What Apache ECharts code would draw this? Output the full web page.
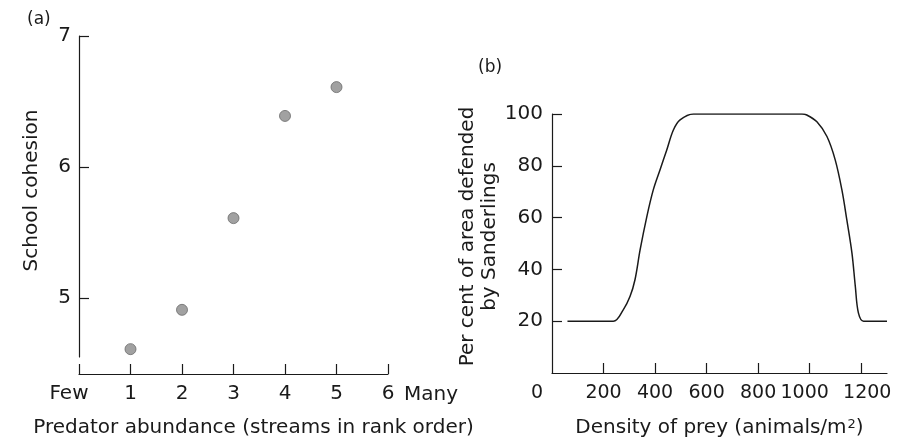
<!DOCTYPE html>
<html><head><meta charset="utf-8">
<script src="https://cdn.jsdelivr.net/npm/echarts@6/dist/echarts.min.js"></script>
<style>html,body{margin:0;padding:0;background:#fff}#c{width:915px;height:439px}</style>
</head><body><div id="c"></div>
<script>
// Panel (a)
const rankX = [1, 2, 3, 4, 5];
const cohesion = [4.61, 4.91, 5.61, 6.39, 6.61];
const rankTicks = [0, 1, 2, 3, 4, 5, 6];
const rankLabels = ['Few', '1', '2', '3', '4', '5', '6'];
const cohesionTicks = [5, 6, 7];
// Panel (b)
const preyDensity = [60, 238, 277, 303, 322, 342, 368, 393, 419, 445, 471, 497, 549,
                     970, 989, 1028, 1067, 1099, 1125, 1144, 1164, 1177, 1189, 1209, 1300];
const percentDefended = [20, 20, 24.5, 29.6, 36, 47.6, 60.4, 70.7, 78.4, 86, 93.8, 97.7, 100,
                         100, 99.6, 97, 91.3, 82.3, 70.7, 59.2, 46.3, 33.5, 23.2, 20, 20];
const densityTicks = [0, 200, 400, 600, 800, 1000, 1200];
const percentTicks = [20, 40, 60, 80, 100];

const FONT = 'DejaVu Sans';
const INK = '#1a1a1a';
const axisLine = { show: true, lineStyle: { color: INK, width: 1.2 } };
const densityShift = { 0: [0, 30, 0, 0], 1000: [0, 10, 0, 0], 1200: [0, 0, 0, 12] };

const chart = echarts.init(document.getElementById('c'));
chart.setOption({
  animation: false,
  backgroundColor: '#fff',
  textStyle: { fontFamily: FONT, color: INK },
  title: [
    { text: '(a)', left: 22, top: 6, textStyle: { fontFamily: FONT, fontSize: 17, fontWeight: 'normal', color: INK } },
    { text: '(b)', left: 473, top: 54, textStyle: { fontFamily: FONT, fontSize: 17, fontWeight: 'normal', color: INK } }
  ],
  grid: [
    { left: 79, top: 36, width: 309, height: 321, outerBoundsMode: 'none', containLabel: false },
    { left: 552, top: 114, width: 335, height: 259, outerBoundsMode: 'none', containLabel: false }
  ],
  xAxis: [
    {
      gridIndex: 0, type: 'value', position: 'bottom', min: 0, max: 6, interval: 1, offset: 17,
      axisLine: axisLine,
      axisTick: { show: true, inside: true, length: 10, customValues: rankTicks, lineStyle: { color: INK, width: 1.2 } },
      axisLabel: {
        customValues: rankTicks, margin: 10, fontFamily: FONT, fontSize: 20, color: INK,
        formatter: function (v) { const i = rankTicks.indexOf(v); return i === 0 ? '{few|' + rankLabels[i] + '}' : rankLabels[i]; },
        rich: { few: { fontFamily: FONT, fontSize: 20, color: INK, padding: [0, 20, 0, 0] } }
      },
      splitLine: { show: false },
      name: 'Many', nameLocation: 'end', nameGap: 16,
      nameTextStyle: { fontFamily: FONT, fontSize: 20, color: INK, verticalAlign: 'top', padding: [11, 0, 0, 0] }
    },
    {
      gridIndex: 0, type: 'value', position: 'bottom', min: 0, max: 6, offset: 17,
      axisLine: { show: false }, axisTick: { show: false }, axisLabel: { show: false }, splitLine: { show: false },
      name: 'Predator abundance (streams in rank order)', nameLocation: 'middle', nameGap: 44,
      nameTextStyle: { fontFamily: FONT, fontSize: 20, color: INK, padding: [0, 0, 0, 40] }
    },
    {
      gridIndex: 1, type: 'value', min: 0, max: 1300,
      axisLine: axisLine,
      axisTick: { show: true, inside: true, length: 10, customValues: densityTicks.slice(1), lineStyle: { color: INK, width: 1.2 } },
      axisLabel: {
        customValues: densityTicks, margin: 11, fontFamily: FONT, fontSize: 19, color: INK,
        formatter: function (v) { return densityShift[v] ? '{s' + v + '|' + v + '}' : String(v); },
        rich: {
          s0: { fontFamily: FONT, fontSize: 19, color: INK, padding: densityShift[0] },
          s1000: { fontFamily: FONT, fontSize: 19, color: INK, padding: densityShift[1000] },
          s1200: { fontFamily: FONT, fontSize: 19, color: INK, padding: densityShift[1200] }
        }
      },
      splitLine: { show: false },
      name: 'Density of prey (animals/m{sup|2})', nameLocation: 'middle', nameGap: 45,
      nameTextStyle: {
        fontFamily: FONT, fontSize: 20, color: INK,
        rich: { sup: { fontFamily: FONT, fontSize: 13, color: INK, verticalAlign: 'top', padding: [0, 0, 4, 1] } }
      }
    }
  ],
  yAxis: [
    {
      gridIndex: 0, type: 'value', min: 4.55, max: 7,
      axisLine: axisLine,
      axisTick: { show: true, inside: true, length: 10, customValues: cohesionTicks, lineStyle: { color: INK, width: 1.2 } },
      axisLabel: { customValues: cohesionTicks, margin: 8, fontFamily: FONT, fontSize: 20, color: INK },
      splitLine: { show: false },
      name: 'School cohesion', nameLocation: 'middle', nameGap: 37,
      nameTextStyle: { fontFamily: FONT, fontSize: 20, color: INK, padding: [0, 0, 0, 12] }
    },
    {
      gridIndex: 1, type: 'value', min: 0, max: 100,
      axisLine: axisLine,
      axisTick: { show: true, inside: true, length: 10, customValues: percentTicks, lineStyle: { color: INK, width: 1.2 } },
      axisLabel: { customValues: percentTicks, margin: 9, fontFamily: FONT, fontSize: 20, color: INK },
      splitLine: { show: false },
      name: 'Per cent of area defended\nby Sanderlings', nameLocation: 'middle', nameGap: 51,
      nameTextStyle: { fontFamily: FONT, fontSize: 20, lineHeight: 22, color: INK, align: 'center', padding: [0, 0, 0, 14] }
    }
  ],
  series: [
    {
      type: 'scatter', xAxisIndex: 0, yAxisIndex: 0,
      data: rankX.map((x, i) => [x, cohesion[i]]),
      symbol: 'circle', symbolSize: 11,
      itemStyle: { color: '#8a8a8a', borderColor: '#6a6a6a', borderWidth: 1 }
    },
    {
      type: 'line', xAxisIndex: 2, yAxisIndex: 1,
      data: preyDensity.map((x, i) => [x, percentDefended[i]]),
      showSymbol: false, smooth: 0.35,
      lineStyle: { color: INK, width: 1.5 }
    }
  ]
});
</script></body></html>
